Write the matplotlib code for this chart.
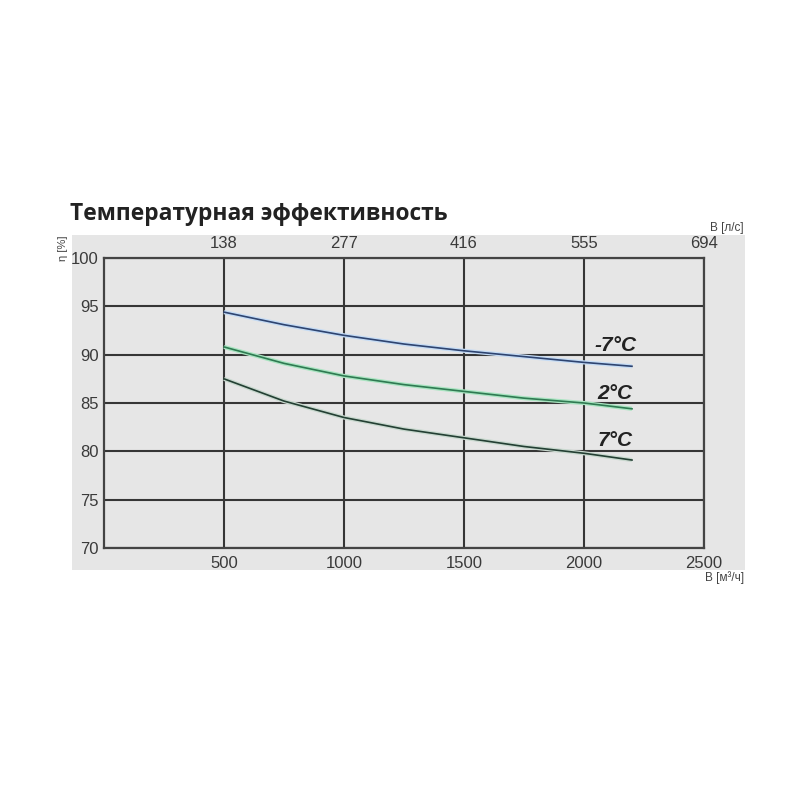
import matplotlib
matplotlib.use("Agg")
import matplotlib.pyplot as plt
from matplotlib.patches import Rectangle

# Data
flow_m3h = [500, 750, 1000, 1250, 1500, 1750, 2000, 2200]
eff_m7 = [94.4, 93.1, 92.0, 91.1, 90.4, 89.8, 89.2, 88.8]
eff_2 = [90.8, 89.1, 87.8, 86.9, 86.2, 85.5, 85.0, 84.4]
eff_7 = [87.5, 85.2, 83.5, 82.3, 81.4, 80.5, 79.8, 79.1]
series_labels = ["-7°C", "2°C", "7°C"]
label_y = [91.0, 86.0, 81.1]
x_ticks = [500, 1000, 1500, 2000, 2500]
top_tick_labels = ["138", "277", "416", "555", "694"]
y_ticks = [70, 75, 80, 85, 90, 95, 100]

plt.rcParams['font.family'] = ['Liberation Sans Narrow', 'Liberation Sans', 'DejaVu Sans']

fig = plt.figure(figsize=(8, 8), dpi=100)
fig.patch.set_facecolor("white")
bg = Rectangle((0.09, 0.2875), 0.841, 0.419, transform=fig.transFigure,
               facecolor="#e6e6e6", edgecolor="none", zorder=-5)
fig.patches.append(bg)

ax = fig.add_axes([0.13, 0.315, 0.75, 0.3625])
ax.set_facecolor("#e6e6e6")
ax.set_xlim(0, 2500)
ax.set_ylim(70, 100)
ax.set_xticks(x_ticks)
ax.set_yticks(y_ticks)
ax.grid(True, color="#363636", linewidth=1.5)
ax.set_axisbelow(True)
for s in ax.spines.values():
    s.set_color("#444444")
    s.set_linewidth(1.6)
ax.tick_params(length=0, labelsize=12, colors="#3a3a3a", pad=6)
ax.tick_params(axis="y", pad=4)

ax2 = ax.twiny()
ax2.set_xlim(ax.get_xlim())
ax2.set_xticks(x_ticks)
ax2.set_xticklabels(top_tick_labels)
ax2.tick_params(length=0, labelsize=12, colors="#3a3a3a", pad=5)
for s in ax2.spines.values():
    s.set_visible(False)

colors = ["#2e4470", "#2f7a52", "#233f33"]
halos = ["#c4dbf5", "#a8e4c0", "#c8d8ce"]
for ys, c, h in zip([eff_m7, eff_2, eff_7], colors, halos):
    ax.plot(flow_m3h, ys, color=h, linewidth=3.0, zorder=3, solid_capstyle="butt")
    ax.plot(flow_m3h, ys, color=c, linewidth=1.2, zorder=4)

for lab, ly in zip(series_labels, label_y):
    ax.text(2130, ly, lab, fontsize=15, fontweight="bold", fontstyle="italic",
            color="#222222", ha="center", va="center", family=['Liberation Sans', 'DejaVu Sans'], zorder=5)

fig.text(0.0875, 0.733, "Температурная эффективность", fontsize=16.4, fontweight="bold",
         color="#222222", ha="left", va="center", family=['Open Sans', 'DejaVu Sans'])
fig.text(0.93, 0.7155, "В [л/с]", fontsize=8.5, color="#444444", ha="right", va="center")
fig.text(0.93, 0.2775, "В [м³/ч]", fontsize=8.5, color="#444444", ha="right", va="center")
fig.text(0.079, 0.69, "η [%]", fontsize=8, color="#444444", ha="center", va="center", rotation=90)

fig.savefig("out.png", dpi=100)
